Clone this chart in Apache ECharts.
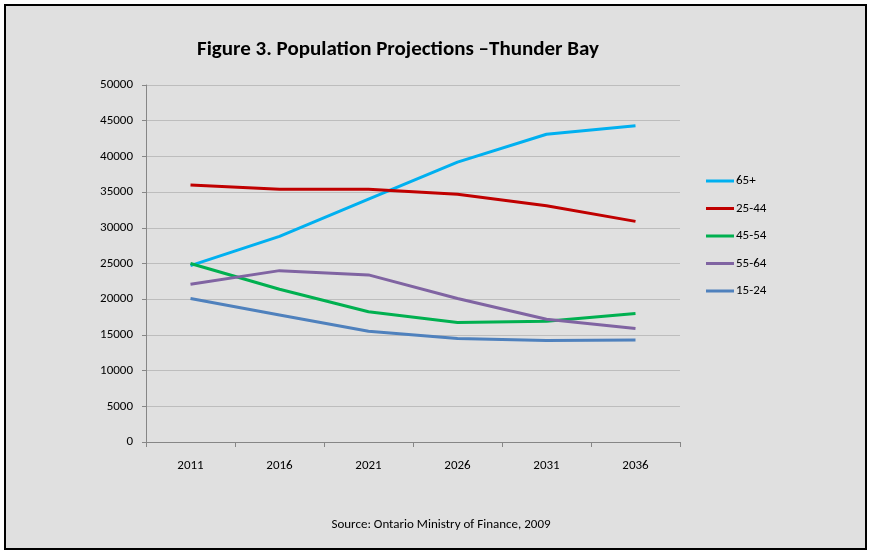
<!DOCTYPE html>
<html>
<head>
<meta charset="utf-8">
<script src="https://cdn.jsdelivr.net/npm/echarts@6/dist/echarts.min.js"></script>
<style>
  html, body { margin: 0; padding: 0; background: #fff; }
  #chart { width: 870px; height: 551px; }
</style>
</head>
<body>
<div id="chart"></div>
<script>
const years = ['2011', '2016', '2021', '2026', '2031', '2036'];
const age65plus = [24700, 28800, 34000, 39200, 43100, 44300];
const age25to44 = [36000, 35400, 35400, 34700, 33100, 30900];
const age45to54 = [25000, 21400, 18250, 16750, 16900, 18000];
const age55to64 = [22100, 24000, 23400, 20100, 17200, 15900];
const age15to24 = [20100, 17800, 15500, 14500, 14200, 14300];

const fontFamily = 'Carlito, "Liberation Sans", "Noto Sans", sans-serif';

const makeLine = (name, data, color) => ({
  name: name,
  type: 'line',
  data: data,
  showSymbol: false,
  symbol: 'none',
  lineStyle: { width: 3, color: color },
  itemStyle: { color: color },
  emphasis: { disabled: true }
});

const chart = echarts.init(document.getElementById('chart'));
chart.setOption({
  animation: false,
  backgroundColor: '#fff',
  textStyle: { fontFamily: fontFamily },
  graphic: [
    {
      type: 'rect',
      z: -1,
      shape: { x: 5, y: 5, width: 861, height: 544 },
      style: { fill: '#e0e0e0', stroke: '#000', lineWidth: 2 }
    }
  ],
  title: [
    {
      text: 'Figure 3. Population Projections \u2013Thunder Bay',
      left: 393,
      top: 34,
      textAlign: 'center',
      textStyle: { fontSize: 21, fontWeight: 'bold', color: '#000', fontFamily: fontFamily }
    },
    {
      text: 'Source: Ontario Ministry of Finance, 2009',
      left: 436,
      top: 513,
      textAlign: 'center',
      textStyle: { fontSize: 13, fontWeight: 'normal', color: '#000', fontFamily: fontFamily }
    }
  ],
  legend: {
    orient: 'vertical',
    left: 701,
    top: 169,
    itemGap: 13.5,
    itemWidth: 28,
    itemHeight: 3,
    icon: 'rect',
    textStyle: { fontSize: 13, lineHeight: 14, color: '#000', padding: [0, 0, 0, -3] },
    data: ['65+', '25-44', '45-54', '55-64', '15-24']
  },
  grid: { left: 146, right: 190, top: 85, bottom: 109 },
  xAxis: {
    type: 'category',
    data: years,
    boundaryGap: true,
    axisLine: { lineStyle: { color: '#868686', width: 1 } },
    axisTick: { show: true, interval: 0, length: 5, lineStyle: { color: '#868686' } },
    axisLabel: { fontSize: 13, color: '#000', margin: 17 }
  },
  yAxis: {
    type: 'value',
    min: 0,
    max: 50000,
    interval: 5000,
    axisLine: { show: true, lineStyle: { color: '#868686', width: 1 } },
    axisTick: { show: true, length: 4, lineStyle: { color: '#868686' } },
    axisLabel: { fontSize: 13, color: '#000', margin: 13, formatter: (v) => String(v) },
    splitLine: { lineStyle: { color: '#bdbdbd', width: 1 } }
  },
  series: [
    makeLine('65+', age65plus, '#00B0F0'),
    makeLine('25-44', age25to44, '#C00000'),
    makeLine('45-54', age45to54, '#00B050'),
    makeLine('55-64', age55to64, '#8064A2'),
    makeLine('15-24', age15to24, '#4F81BD')
  ]
});
</script>
</body>
</html>
